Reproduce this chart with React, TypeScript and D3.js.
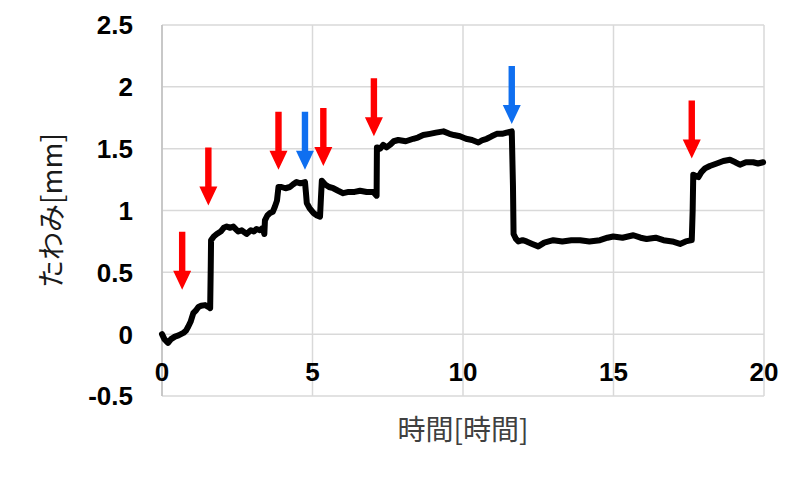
import * as d3 from "d3";

// measured deflection over time
const hours = [
  0.0, 0.08, 0.2, 0.3, 0.43, 0.55, 0.71, 0.8, 0.87, 0.95, 1.04, 1.12, 1.21, 1.3, 1.43, 1.55, 1.6, 1.62, 1.63,
  1.72, 1.82, 1.95, 2.05, 2.15, 2.25, 2.37, 2.45, 2.53, 2.65, 2.81, 2.95, 3.05, 3.14, 3.25, 3.35, 3.4, 3.42,
  3.5, 3.59, 3.68, 3.75, 3.82, 3.87, 3.97, 4.1, 4.25, 4.35, 4.47, 4.6, 4.75, 4.78, 4.81, 4.9, 5.03, 5.15, 5.25,
  5.28, 5.31, 5.42, 5.55, 5.69, 5.85, 6.02, 6.2, 6.4, 6.58, 6.8, 7.02, 7.13, 7.14, 7.25, 7.35, 7.46, 7.57, 7.7,
  7.85, 8.1, 8.35, 8.5, 8.68, 8.9, 9.1, 9.35, 9.55, 9.7, 9.9, 10.1, 10.3, 10.51, 10.65, 10.79, 10.95, 11.12,
  11.3, 11.45, 11.62, 11.66, 11.68, 11.76, 11.84, 11.98, 12.11, 12.3, 12.5, 12.7, 13.0, 13.3, 13.6, 13.89,
  14.2, 14.55, 14.8, 14.99, 15.3, 15.66, 15.9, 16.1, 16.4, 16.66, 16.95, 17.21, 17.4, 17.6, 17.63, 17.65,
  17.82, 17.92, 18.04, 18.2, 18.43, 18.65, 18.87, 19.05, 19.2, 19.4, 19.64, 19.8, 19.97,
];
const deflection = [
  0.0, -0.04, -0.07, -0.04, -0.02, -0.01, 0.01, 0.03, 0.06, 0.1, 0.17, 0.19, 0.22, 0.23, 0.235, 0.22, 0.21, 0.55,
  0.76, 0.79, 0.81, 0.83, 0.86, 0.87, 0.86, 0.87, 0.85, 0.83, 0.84, 0.81, 0.84, 0.83, 0.85, 0.84, 0.86, 0.81,
  0.92, 0.96, 0.98, 0.99, 1.03, 1.08, 1.19, 1.19, 1.18, 1.19, 1.21, 1.23, 1.22, 1.23, 1.15, 1.06, 1.02, 0.98,
  0.96, 0.95, 1.1, 1.24, 1.21, 1.19, 1.18, 1.16, 1.14, 1.15, 1.15, 1.16, 1.15, 1.15, 1.12, 1.51, 1.5, 1.53,
  1.51, 1.53, 1.56, 1.57, 1.56, 1.58, 1.59, 1.61, 1.62, 1.63, 1.64, 1.62, 1.61, 1.6, 1.58, 1.57, 1.55, 1.57,
  1.58, 1.6, 1.62, 1.62, 1.63, 1.64, 1.2, 0.81, 0.77, 0.75, 0.76, 0.75, 0.73, 0.71, 0.74, 0.76, 0.75, 0.76,
  0.76, 0.75, 0.76, 0.78, 0.79, 0.78, 0.8, 0.78, 0.77, 0.78, 0.76, 0.75, 0.73, 0.75, 0.76, 1.0, 1.29, 1.27,
  1.31, 1.34, 1.36, 1.38, 1.4, 1.41, 1.39, 1.37, 1.39, 1.39, 1.38, 1.39,
];

// event markers (arrow tip positions)
const arrowHours = [0.67, 1.54, 3.87, 4.75, 5.36, 7.04, 11.62, 17.6];
const arrowTips = [0.36, 1.04, 1.33, 1.33, 1.36, 1.6, 1.7, 1.42];
const arrowKinds = ["red", "red", "red", "blue", "red", "red", "blue", "red"];

const xTicks = [0, 5, 10, 15, 20];
const yTicks = [-0.5, 0, 0.5, 1, 1.5, 2, 2.5];

const width = 800;
const height = 478;
const arrowColor: Record<string, string> = { red: "#ff0000", blue: "#0f6ff0" };

export default function App() {
  const x = d3.scaleLinear().domain([0, 20]).range([162, 764]);
  const y = d3.scaleLinear().domain([-0.5, 2.5]).range([396, 25]);

  const pts = hours.map((h, i) => [h, deflection[i]] as [number, number]);
  const line = d3
    .line<[number, number]>()
    .x((d) => x(d[0]))
    .y((d) => y(d[1]))
    .curve(d3.curveLinear);

  const arrowPath = (tx: number, ty: number) => {
    const len = 58;
    const headH = 19;
    const headW = 9;
    const shaft = 3.2;
    return `M${tx - shaft},${ty - len} L${tx + shaft},${ty - len} L${tx + shaft},${ty - headH} L${tx + headW},${ty - headH} L${tx},${ty} L${tx - headW},${ty - headH} L${tx - shaft},${ty - headH} Z`;
  };

  return (
    <svg
      width={width}
      height={height}
      style={{ position: "absolute", left: 0, top: 0, background: "#fff" }}
    >
      {/* grid */}
      {yTicks.map((t) => (
        <line key={"gy" + t} x1={x(0)} x2={x(20)} y1={y(t)} y2={y(t)} stroke="#d9d9d9" strokeWidth={1.5} />
      ))}
      {xTicks.map((t) => (
        <line key={"gx" + t} x1={x(t)} x2={x(t)} y1={y(2.5)} y2={y(-0.5)} stroke="#d9d9d9" strokeWidth={1.5} />
      ))}
      <line x1={x(0)} x2={x(0)} y1={y(2.5)} y2={y(-0.5)} stroke="#bfbfbf" strokeWidth={1.5} />

      {/* tick labels */}
      {yTicks.map((t) => (
        <text
          key={"ly" + t}
          x={133}
          y={y(t)}
          dy="0.36em"
          textAnchor="end"
          fontFamily="Liberation Sans, Arial, sans-serif"
          fontWeight="bold"
          fontSize={26}
          fill="#000"
        >
          {t}
        </text>
      ))}
      {xTicks.map((t) => (
        <text
          key={"lx" + t}
          x={x(t)}
          y={372}
          dy="0.36em"
          textAnchor="middle"
          fontFamily="Liberation Sans, Arial, sans-serif"
          fontWeight="bold"
          fontSize={26}
          fill="#000"
        >
          {t}
        </text>
      ))}

      {/* data */}
      <path
        d={line(pts) || ""}
        fill="none"
        stroke="#000"
        strokeWidth={6}
        strokeLinejoin="round"
        strokeLinecap="round"
      />

      {/* arrows */}
      {arrowHours.map((h, i) => (
        <path key={"a" + i} d={arrowPath(x(h), y(arrowTips[i]))} fill={arrowColor[arrowKinds[i]]} />
      ))}

      {/* axis titles */}
      <text
        transform={`translate(52,${y(1)}) rotate(-90)`}
        textAnchor="middle"
        dy="0.36em"
        fontFamily="Noto Sans CJK JP, sans-serif"
        fontSize={28}
        fill="#1a1a1a"
      >
        たわみ[mm]
      </text>
      <text
        x={x(10)}
        y={430}
        textAnchor="middle"
        dy="0.36em"
        fontFamily="Noto Sans CJK JP, sans-serif"
        fontSize={28}
        fill="#404040"
      >
        時間[時間]
      </text>
    </svg>
  );
}
